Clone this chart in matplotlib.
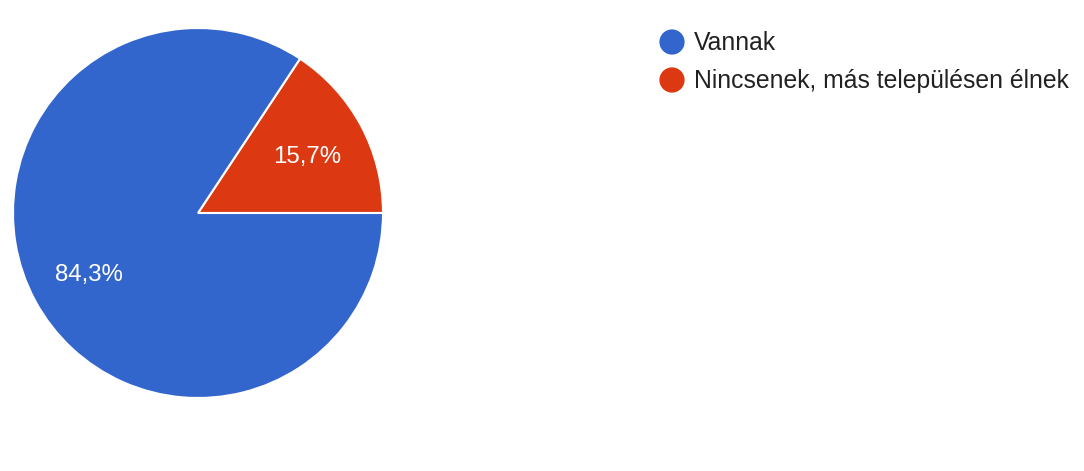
import matplotlib
matplotlib.use("Agg")
import matplotlib.pyplot as plt
import matplotlib.transforms as mtransforms

categories = ["Vannak", "Nincsenek, más településen élnek"]
values = [84.3, 15.7]
colors = ["#3366CC", "#DC3912"]
pct_labels = ["84,3%", "15,7%"]

plt.rcParams['font.family'] = ['Liberation Sans', 'DejaVu Sans']

W, H = 1084, 471
fig = plt.figure(figsize=(W / 100, H / 100), dpi=100)

cx, cy, r = 198, 213, 185
ax = fig.add_axes([(cx - r) / W, (H - cy - r) / H, 2 * r / W, 2 * r / H])
# draw red first from 0° counterclockwise, then blue
order = [1, 0]
wedges, texts = ax.pie([values[i] for i in order], colors=[colors[i] for i in order],
                       startangle=0, counterclock=True,
                       wedgeprops=dict(edgecolor="white", linewidth=1.5),
                       labels=[pct_labels[i] for i in order], labeldistance=0.67,
                       textprops=dict(color="white", fontsize=17.3, ha="center", va="center"))
for t in texts:
    t.set_transform(mtransforms.offset_copy(t.get_transform(), fig=fig, x=0, y=-3, units="dots"))
ax.set_xlim(-1, 1)
ax.set_ylim(-1, 1)
ax.set_aspect("equal")
ax.axis("off")

# legend
lax = fig.add_axes([0, 0, 1, 1])
lax.set_xlim(0, W)
lax.set_ylim(H, 0)
lax.axis("off")
for i, (cat, col) in enumerate(zip(categories, colors)):
    y = 42 + i * 38
    lax.scatter([672], [y], s=330, color=col, edgecolors="none")
    lax.text(694, y + 1, cat, fontsize=17.8, color="#212121", va="center", ha="left")

fig.savefig("out.png", dpi=100)
